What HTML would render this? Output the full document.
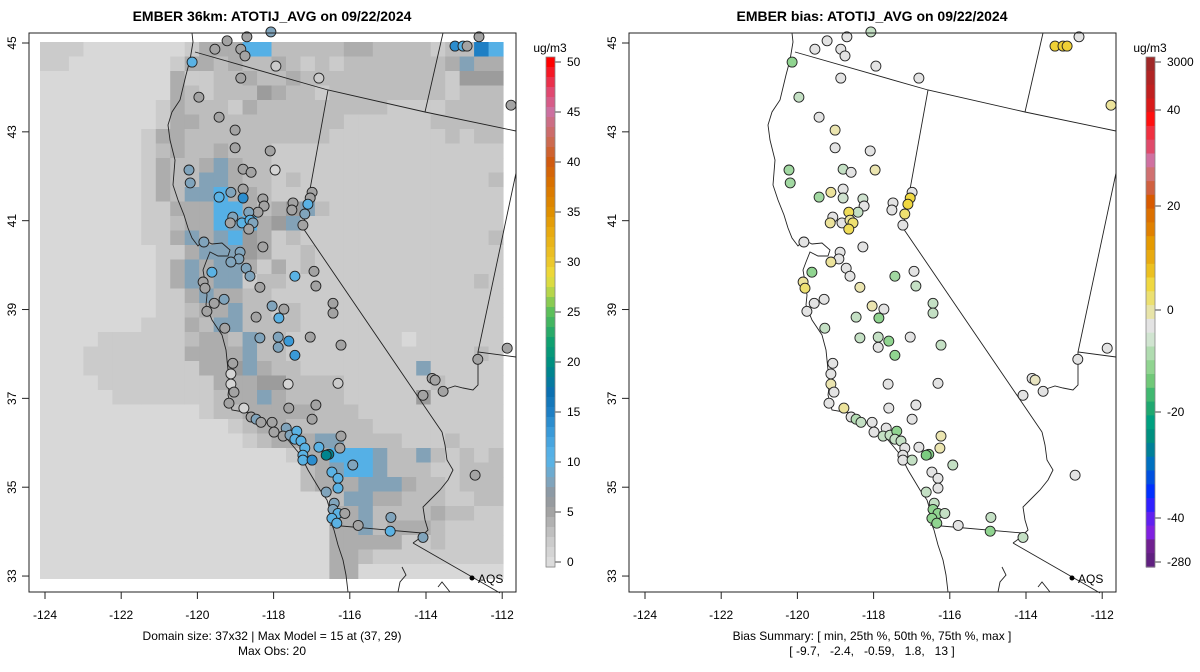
<!DOCTYPE html>
<html><head><meta charset="utf-8"><style>
html,body{margin:0;padding:0;background:#fff;}
svg{display:block;font-family:"Liberation Sans",Arial,sans-serif;}
</style></head><body>
<svg id="fig" width="1200" height="672" viewBox="0 0 1200 672" xmlns="http://www.w3.org/2000/svg">
<g id="left"></g>
<g id="right"></g>
</svg>
<script>
// ---- data ----
const gridRows = [
"11100000001333BB22222332222122DB32",
"11000000013323223212122222223b33",
"000000000311223223222222222214443",
"00000000032122243221222222221222",
"00000000132221322222222211112222",
"00000000133222222222211111122222",
"00000001332222222222111111112122",
"00000001232232221111111111111111",
"000000013223b3221111111111111111",
"00000001322bb3221211111111111112",
"0000000132bbB3321111111111111111",
"000000011333BB3234b2111111111111",
"000000011233BbB34b11111111111111",
"0000000113b3bB431211111111111112",
"00000000113bbb431121111111111111",
"0000000013b3bb313121111111111111",
"0000000013b3bb122111111111111121",
"00000000113b33221111111111111111",
"0000000011233b221211111111111111",
"000000011132bb222211111111111111",
"00001111112332b22111111110111111",
"00011111113333b22111111111111121",
"00011111111334b32211111111b11111",
"00001111111133344222211111121111",
"000001111111233b3222211111411111",
"00000000000122333332221111111111",
"00000000000001233222222111111111",
"0000000000000012333bb22221112111",
"00000000000000000133BBBb22b21212",
"00000000000000000023bBBb2221122",
"0000000000000000002333bbb3221222",
"000000000000000000002bb332221122",
"0000000000000000000033b222232211",
"0000000000000000000033b233321111",
"00000000000000000000333331121111",
"00000000000000000000332111111111",
"00000000000000000000330000000000"
];
const gridLevels = {"0":0.5,"1":2,"2":3.2,"3":4.3,"4":5.5,"b":7.8,"B":11,"D":15," ":3.2};
const stLon = [-119.22,-118.70,-118.07,-119.54,-118.86,-118.75,-120.14,-117.94,-116.81,-118.86,-119.96,-119.43,-119.01,-119.01,-118.09,-120.22,-118.80,-118.59,-117.96,-120.19,-119.43,-119.12,-118.80,-118.80,-118.28,-118.25,-118.41,-118.65,-119.07,-118.83,-118.62,-118.54,-119.14,-118.65,-116.99,-117.04,-117.49,-117.52,-117.10,-117.18,-117.23,-119.83,-118.28,-118.88,-118.91,-119.12,-119.62,-118.72,-118.62,-119.85,-119.80,-117.44,-116.94,-116.89,-118.36,-119.30,-119.56,-119.75,-118.04,-117.73,-117.86,-118.46,-116.44,-116.44,-119.28,-118.36,-117.88,-117.60,-117.88,-117.44,-117.04,-116.23,-119.07,-119.12,-119.12,-119.04,-117.62,-116.31,-113.84,-113.76,-114.08,-113.55,-112.64,-111.87,-119.17,-118.78,-117.60,-116.89,-116.99,-118.59,-118.46,-118.33,-118.04,-117.99,-117.67,-117.75,-117.57,-117.39,-117.44,-117.28,-117.18,-116.81,-116.23,-116.26,-116.55,-116.62,-117.23,-117.23,-116.99,-115.92,-116.47,-116.31,-116.31,-116.62,-112.71,-116.41,-116.44,-116.31,-116.13,-116.47,-116.34,-115.78,-114.92,-114.94,-114.08,-113.24,-113.03,-112.92,-112.61,-111.77];
const stLat = [45.05,45.14,45.25,44.86,44.86,44.71,44.57,44.48,44.21,44.21,43.78,43.33,43.04,42.64,42.57,42.14,42.16,42.09,42.14,41.85,41.53,41.64,41.71,41.51,41.49,41.33,41.19,41.19,41.08,40.95,41.01,40.95,40.95,40.81,41.64,41.51,41.40,41.24,41.37,41.15,40.90,40.52,40.41,40.29,40.14,40.07,39.84,39.93,39.75,39.62,39.48,39.75,39.86,39.53,39.50,39.23,39.14,38.96,39.08,39.01,38.81,38.83,39.14,38.92,38.58,38.36,38.38,38.29,38.15,37.97,38.38,38.20,37.79,37.55,37.32,37.14,37.32,37.34,37.45,37.41,37.07,37.16,37.88,38.13,36.89,36.78,36.78,36.85,36.53,36.58,36.53,36.46,36.46,36.24,36.33,36.15,36.17,36.26,36.08,36.04,35.88,35.90,36.15,35.88,35.74,35.72,35.72,35.61,35.61,35.50,35.34,35.20,34.98,34.89,35.27,34.64,34.50,34.41,34.41,34.30,34.19,34.14,34.32,34.01,33.87,44.93,44.93,44.93,45.14,43.60];
const stObs = [5,5,8,5,5,5,10,2,2,5,5,5,5,5,5,8,5,5,1,8,10,8,5,14,5,5,5,8,8,10,10,8,5,5,5,5,5,5,10,8,5,8,5,8,8,8,10,8,8,5,5,10,5,5,5,8,5,5,8,5,10,5,5,5,5,8,8,13,8,13,5,5,5,1,1,5,1,2,5,5,5,5,5,5,5,1,5,5,5,5,8,5,5,5,8,5,8,10,10,10,10,10,5,5,19,19,10,10,14,8,10,10,10,8,5,8,8,10,5,10,10,5,8,10,8,14,10,5,5,5];
const stBias = [0,0,-1.5,0,0,0,-3,0,0,0,-1.5,0,1.5,0,0,-2.5,-1.5,0,1.5,-2.5,-2.5,2,0,-1,-1,0,-1.5,4,0,0,2,3,2,4,0,5,0,0,5,3,0,0,0,0,0,2,-3,0,0,2,3,-2.5,0,-1.5,1.5,0,0,0,1.5,0,-3,-1.5,-1.5,-1.5,-1.5,-1.5,-1.5,-3,0,-3,0,-1.5,0,0,1.5,0,0,0,0,1,0,0,0,0,0,2,0,0,0,0,-2,-1.5,0,0,0,-1.5,-1.5,-3,-1.5,-1.5,0,0,1.5,1.5,-3.5,-4,0,0,-1.5,-1.5,0,0,0,-1.5,0,-1.5,-3,-3,-1.5,-3,-3,0,-1.5,-3,-1.5,6,6,6,0,2];
const latTicks = [33,35,37,39,41,43,45];
const lonTicks = [-124,-122,-120,-118,-116,-114,-112];
const obsTicks = [0,5,10,15,20,25,30,35,40,45,50];
const biasTickLabels = ["3000","40","20","0","-20","-40","-280"];

// ---- scales ----
const NS="http://www.w3.org/2000/svg";
function xOf(lon){return 45+(lon+124)*38.1;}
function yOf(lat){return 43+(45-lat)*44.42;}
const obsStops=[[0,"#dcdcdc"],[2,"#cbcbcb"],[3.2,"#bdbdbd"],[4.3,"#adadad"],[5.5,"#9c9c9c"],[7,"#8d9aa5"],[8,"#80a4bc"],[10,"#5ab2e4"],[11,"#55b0e6"],[13,"#3a9ad8"],[15,"#1e7fc4"],[17,"#0b70b0"],[19,"#00848e"],[20,"#009080"],[22,"#10a070"],[25,"#5cbf5a"],[27,"#b6d54a"],[28.5,"#eede3c"],[30,"#ecc82c"],[33,"#e8aa10"],[35,"#e09000"],[38,"#d87000"],[40,"#d05a10"],[42,"#cc6a50"],[45,"#cc70a0"],[47,"#e04870"],[50,"#ff0000"]];
const biasStops=[[-30,"#602080"],[-25,"#8020e0"],[-20,"#0030ff"],[-15,"#0070c0"],[-12,"#008098"],[-10,"#00a080"],[-8,"#20a870"],[-6,"#40b870"],[-4.5,"#70c878"],[-3,"#90d490"],[-1.5,"#c4e0c4"],[0,"#e3e3e3"],[1.5,"#ebe5b0"],[3,"#eee070"],[5,"#f0d840"],[8,"#ecc020"],[12,"#e8aa10"],[16,"#e59a00"],[20,"#e08000"]];
function hex(c){return [1,3,5].map(i=>parseInt(c.substr(i,2),16));}
function interp(stops,v){
  if(v<=stops[0][0])return stops[0][1];
  for(let i=1;i<stops.length;i++){if(v<=stops[i][0]){const a=stops[i-1],b=stops[i];const t=(v-a[0])/(b[0]-a[0]);const ca=hex(a[1]),cb=hex(b[1]);return "rgb("+ca.map((x,k)=>Math.round(x+(cb[k]-x)*t)).join(",")+")";}}
  return stops[stops.length-1][1];
}
function el(tag,attrs,parent,txt){const e=document.createElementNS(NS,tag);for(const k in attrs)e.setAttribute(k,attrs[k]);if(txt!==undefined)e.textContent=txt;parent.appendChild(e);return e;}

const mapPaths=[
"M192,33 L193,42 190,60 186,75 180,100 172,112 168,125 170,140 175,160 173,185 178,200 184,215 188,228 192,238 198,246 204,240 212,244 222,243 230,250 228,256 218,256 210,252 206,262 203,270 205,282 207,295 206,305 212,320 222,335 226,350 228,370 230,380 228,395 232,410 250,413 262,420 275,428 288,440 298,452 304,462 308,470 320,490 327,500 330,510 330,520 334,530 338,545 343,560 346,575 348,592",
"M195,52 L328,90 L425,112 L516,131",
"M328,90 L303,228 L442,432",
"M442,432 L445,445 447,460 453,470 448,480 440,490 430,500 423,507 425,520 428,530 420,538 413,543",
"M330,525 L422,533",
"M413,543 L500,593",
"M425,112 L443,33",
"M516,173 L478,352 L516,357",
"M443,390 L455,386 463,388 473,390 478,385 478,352",
"M402,567 L406,575 L400,582 L398,592",
"M438,587 L442,582 L450,592"
];

function panel(g,ox,isBias,title,sub1,sub2){
  const t=el("text",{x:272+ox,y:21,"text-anchor":"middle","font-size":"14","font-weight":"bold",fill:"#000"},g,title);
  
  
  if(!isBias){
    const gg=el("g",{},g);
    
    
    gridRows.forEach((row,r)=>{
      for(let c=0;c<32;c++){
        const ch=row[c]!==undefined?row[c]:row[row.length-1];
        const v=gridLevels[ch]!==undefined?gridLevels[ch]:2;
        const cell=el("rect",{x:(40+c*14.47).toFixed(2),y:(42+r*14.5).toFixed(2),width:15,height:15,fill:interp(obsStops,v)},gg);
        
        
      }
    });
  }
  const mb=el("g",{transform:"translate("+ox+",0)",fill:"none",stroke:"#222","stroke-width":"0.9"},g);
  
  
  mapPaths.forEach(d=>{const p=el("path",{d:d},mb);});
  const sg=el("g",{},g);
  
  
  for(let i=0;i<stLon.length;i++){
    const col=isBias?interp(biasStops,stBias[i]):interp(obsStops,stObs[i]);
    const c=el("circle",{cx:(xOf(stLon[i])+ox).toFixed(1),cy:yOf(stLat[i]).toFixed(1),r:5,fill:col,stroke:"#222","stroke-width":"0.9"},sg);
    
    
  }
  const aq=el("circle",{cx:472+ox,cy:578,r:2.5,fill:"#000"},g);
  
  
  const aqt=el("text",{x:478+ox,y:583,"font-size":"12",fill:"#000"},g,"AQS");
  
  
  const box=el("rect",{x:29+ox,y:33,width:487,height:559,fill:"none",stroke:"#222","stroke-width":"1"},g);
  
  
  latTicks.forEach(v=>{
    const y=yOf(v);
    const l=el("line",{x1:22+ox,x2:29+ox,y1:y,y2:y,stroke:"#222"},g);
    
    
    const tx=el("text",{x:0,y:0,transform:"translate("+(16+ox)+","+y+") rotate(-90)","text-anchor":"middle","font-size":"12",fill:"#000"},g,String(v));
    
    
  });
  lonTicks.forEach(v=>{
    const x=xOf(v)+ox;
    const l=el("line",{x1:x,x2:x,y1:592,y2:599,stroke:"#222"},g);
    
    
    const tx=el("text",{x:x,y:619,"text-anchor":"middle","font-size":"12",fill:"#000"},g,String(v));
    
    
  });
  const s1=el("text",{x:272+ox,y:640,"text-anchor":"middle","font-size":"12",fill:"#000","xml:space":"preserve"},g,sub1);
  
  
  const s2=el("text",{x:272+ox,y:655,"text-anchor":"middle","font-size":"12",fill:"#000","xml:space":"preserve"},g,sub2);
  
  
  s2.style.whiteSpace="pre";
  const cb=el("g",{},g);
  
  
  const u=el("text",{x:550+ox,y:52,"text-anchor":"middle","font-size":"12",fill:"#000"},cb,"ug/m3");
  
  
  if(!isBias){
    const N=51, h=510/N;
    for(let k=0;k<N;k++){
      const v=(N-1-k)*50/(N-1);
      const r=el("rect",{x:546+ox,y:(57+k*h).toFixed(1),width:9,height:(h+0.6).toFixed(1),fill:interp(obsStops,v)},cb);
      
      
    }
    obsTicks.forEach(v=>{
      const y=562-v*10;
      el("line",{x1:555+ox,x2:561+ox,y1:y,y2:y,stroke:"#444"},cb);
      const tx=el("text",{x:567+ox,y:y+4,"font-size":"12",fill:"#000"},cb,String(v));
      
      
    });
  } else {
    const cols=["#a02828","#b02424","#c02020","#d81a1a","#ff1010","#f03040","#e04a6a","#d070a0","#d07070","#d06040","#d85a00","#dc7000","#e08000","#e59a00","#e8aa10","#ecc020","#f0d840","#ece070","#e8e4a8","#e3e3e3","#d0e4d0","#b0dcb0","#90d490","#70c878","#40b870","#20a870","#00a080","#009080","#008098","#0070c0","#0050e0","#0030ff","#3020ff","#6020f0","#8020e0","#702090","#602080"];
    const h=(567-57)/cols.length;
    cols.forEach((c,k)=>{
      const r=el("rect",{x:546+ox,y:(57+k*h).toFixed(1),width:9,height:(h+0.6).toFixed(1),fill:c},cb);
      
      
    });
    const ys=[62,110,206,310,412,518,562];
    biasTickLabels.forEach((lab,i)=>{
      el("line",{x1:555+ox,x2:561+ox,y1:ys[i],y2:ys[i],stroke:"#444"},cb);
      const tx=el("text",{x:567+ox,y:ys[i]+4,"font-size":"12",fill:"#000"},cb,lab);
      
      
    });
  }
  el("rect",{x:546+ox,y:57,width:9,height:510,fill:"none",stroke:"#888","stroke-width":"0.8"},cb);
}
panel(document.getElementById("left"),0,false,"EMBER 36km: ATOTIJ_AVG on 09/22/2024","Domain size: 37x32 | Max Model = 15 at (37, 29)","Max Obs: 20");
panel(document.getElementById("right"),600,true,"EMBER bias: ATOTIJ_AVG on 09/22/2024","Bias Summary: [ min, 25th %, 50th %, 75th %, max ]","[ -9.7,   -2.4,   -0.59,   1.8,   13 ]");
</script>
</body></html>
